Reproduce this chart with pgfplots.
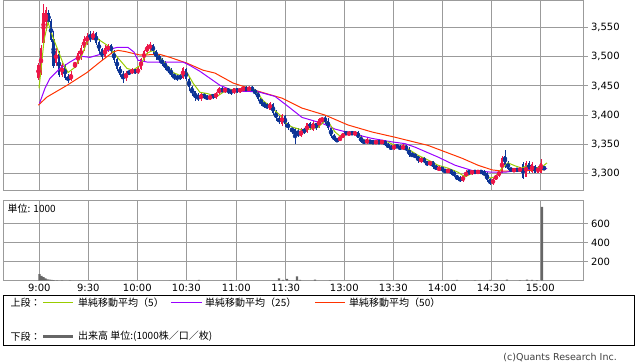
\documentclass[border=0pt]{standalone}
\usepackage{pgfplots}
\pgfplotsset{compat=1.18}
\usepackage{pgfplotstable}
\usepackage{fontspec}
\setmainfont{DejaVu Sans}
\newfontfamily\jp{Noto Sans CJK JP}
\definecolor{upred}{RGB}{236,22,72}
\definecolor{dnblue}{RGB}{12,52,150}
\definecolor{mafive}{RGB}{153,204,0}
\definecolor{matwf}{RGB}{153,0,255}
\definecolor{mafty}{RGB}{255,51,0}
\definecolor{volgray}{RGB}{102,102,102}
\definecolor{gridgray}{RGB}{155,155,155}

\pgfplotstableread{
x o h l c
38.5 3465 3490 3460 3485
41 3470 3520 3468 3515
43.5 3525 3590 3520 3575
46 3560 3585 3545 3580
56 3490 3515 3485 3510
62 3470 3490 3465 3485
71 3460 3475 3458 3470
75 3485 3490 3480 3490
78 3490 3510 3488 3505
81 3500 3520 3495 3515
84 3515 3535 3510 3530
87 3525 3540 3520 3535
93 3530 3545 3528 3540
105 3500 3520 3498 3515
108 3510 3522 3508 3520
126 3465 3475 3458 3472
132 3472 3480 3470 3478
138 3472 3482 3470 3480
141 3480 3498 3478 3495
144 3495 3512 3492 3510
147 3508 3522 3505 3518
150 3515 3525 3510 3520
183 3465 3482 3462 3480
201 3428 3438 3425 3435
210 3428 3435 3426 3432
216 3430 3440 3428 3438
219 3438 3448 3435 3445
225 3440 3448 3438 3445
234 3438 3447 3436 3445
240 3440 3447 3438 3445
243 3442 3450 3440 3447
249 3442 3450 3440 3448
270 3410 3422 3408 3420
282 3385 3402 3382 3400
301 3365 3378 3362 3372
307 3372 3387 3370 3385
313 3375 3390 3372 3385
319 3380 3395 3378 3392
322 3390 3397 3386 3395
340 3356 3365 3355 3362
343 3362 3370 3360 3368
349 3366 3372 3365 3370
355 3367 3372 3365 3370
367 3352 3360 3350 3358
376 3352 3357 3350 3355
382 3352 3358 3350 3355
394 3342 3350 3340 3348
403 3342 3350 3340 3347
421 3320 3328 3318 3326
430 3315 3322 3313 3320
439 3306 3312 3304 3310
448 3303 3308 3300 3306
463 3287 3297 3285 3295
466 3295 3305 3293 3302
472 3300 3306 3298 3304
478 3301 3306 3299 3304
493 3282 3292 3280 3290
496 3290 3298 3288 3296
499 3296 3305 3294 3303
502 3302 3330 3300 3325
514 3304 3309 3302 3307
520 3305 3310 3303 3308
526 3295 3322 3293 3318
532 3303 3320 3300 3315
538 3302 3312 3300 3310
541 3302 3325 3300 3318
}\upcandles

\pgfplotstableread{
x o h l c
48.5 3575 3580 3555 3560
51 3560 3565 3525 3530
53.5 3530 3545 3480 3485
59 3505 3510 3465 3470
65 3485 3487 3460 3465
68 3465 3470 3455 3460
90 3535 3545 3525 3530
96 3540 3542 3520 3525
99 3525 3530 3505 3510
102 3512 3515 3495 3500
111 3520 3522 3505 3510
114 3510 3512 3490 3495
117 3495 3500 3475 3480
120 3482 3485 3465 3470
123 3470 3475 3455 3465
129 3475 3478 3468 3470
135 3478 3480 3470 3472
153 3520 3522 3505 3510
156 3510 3512 3495 3500
159 3502 3505 3490 3495
162 3495 3498 3485 3488
165 3490 3492 3478 3482
168 3482 3485 3472 3478
171 3478 3480 3465 3470
174 3470 3472 3460 3465
177 3466 3470 3458 3462
180 3468 3470 3460 3462
186 3478 3480 3458 3462
189 3462 3465 3442 3448
192 3448 3450 3432 3438
195 3440 3442 3425 3430
198 3432 3438 3425 3428
204 3435 3438 3428 3430
207 3432 3435 3425 3428
213 3435 3437 3428 3430
222 3445 3448 3438 3440
228 3445 3447 3437 3440
231 3442 3445 3435 3438
237 3445 3447 3438 3440
246 3447 3450 3440 3442
252 3448 3450 3440 3442
255 3442 3445 3435 3438
258 3440 3442 3425 3428
261 3428 3430 3415 3420
264 3420 3425 3412 3415
267 3418 3420 3410 3412
273 3418 3420 3400 3405
276 3405 3408 3390 3395
279 3395 3398 3385 3388
285 3398 3400 3380 3385
288 3385 3388 3375 3378
292 3378 3380 3368 3372
295 3375 3378 3350 3365
298 3370 3378 3362 3365
304 3375 3378 3368 3370
310 3385 3388 3375 3378
316 3385 3387 3375 3380
325 3395 3398 3385 3390
328 3390 3395 3375 3378
331 3378 3380 3360 3365
334 3365 3368 3355 3358
337 3358 3360 3354 3356
346 3370 3372 3366 3368
352 3370 3372 3366 3368
358 3370 3372 3360 3362
361 3362 3365 3352 3355
364 3356 3358 3350 3353
370 3356 3358 3350 3353
373 3355 3357 3350 3352
379 3355 3357 3350 3352
385 3355 3357 3347 3350
388 3350 3352 3343 3345
391 3346 3348 3340 3342
397 3348 3350 3343 3345
400 3346 3348 3340 3342
406 3347 3348 3338 3342
409 3342 3345 3328 3332
412 3333 3336 3328 3330
415 3332 3335 3326 3328
418 3330 3332 3318 3322
424 3325 3328 3318 3320
427 3320 3322 3312 3315
433 3320 3322 3308 3312
436 3312 3315 3305 3308
442 3310 3312 3303 3306
445 3306 3308 3300 3303
451 3306 3308 3298 3300
454 3302 3305 3294 3296
457 3296 3298 3288 3290
460 3292 3295 3285 3288
469 3303 3306 3298 3300
475 3304 3306 3299 3301
481 3304 3306 3299 3301
484 3302 3305 3296 3298
487 3300 3302 3285 3290
490 3290 3292 3280 3282
505 3330 3340 3310 3315
508 3318 3322 3305 3308
511 3308 3310 3303 3305
517 3307 3309 3303 3305
523 3315 3320 3290 3292
529 3318 3322 3300 3305
535 3312 3315 3300 3302
544 3310 3312 3306 3308
}\dncandles

\pgfplotsset{
  chartbase/.style={
    scale only axis, width=580bp, xmin=3, xmax=583,
    xtick={39.3,88.3,137.3,186.3,236.3,285.7,344.3,393.3,442.3,491.3,540.3},
    grid=major,
    major grid style={gridgray, line width=1bp},
    axis line style={gridgray, line width=1bp},
    xtick style={draw=none},
    ytick pos=right, yticklabel pos=right, ytick align=outside,
    major tick length=4.5bp,
    ytick style={gridgray, line width=1bp},
    tick label style={font=\fontsize{10bp}{12bp}\selectfont, text=black},
    /pgf/number format/assume math mode=true,
    /pgf/number format/1000 sep={,},
  },
  wick/.style={draw=#1, color=#1, only marks, mark=none, forget plot,
    error bars/.cd, y dir=both, y explicit, error mark=none,
    error bar style={line width=1bp, draw=#1, solid}},
  body/.style={draw=#1, color=#1, only marks, mark=none, forget plot,
    error bars/.cd, y dir=both, y explicit, error mark=none,
    error bar style={line width=2.6bp, draw=#1, solid}},
}

\begin{document}
\begin{tikzpicture}
\useasboundingbox (0,0) rectangle (638bp,362bp);
\begin{axis}[chartbase,
  at={(3bp,171.7bp)}, anchor=south west, height=189.8bp,
  ymin=3271, ymax=3596.5,
  ytick={3300,3350,3400,3450,3500,3550},
  xticklabel=\empty]
\addplot[wick=dnblue] table[x=x, y expr={(\thisrow{h}+\thisrow{l})/2}, y error expr={(\thisrow{h}-\thisrow{l})/2}] {\dncandles};
\addplot[body=dnblue] table[x=x, y expr={(\thisrow{o}+\thisrow{c})/2}, y error expr={abs(\thisrow{o}-\thisrow{c})/2+0.6}] {\dncandles};
\addplot[wick=upred] table[x=x, y expr={(\thisrow{h}+\thisrow{l})/2}, y error expr={(\thisrow{h}-\thisrow{l})/2}] {\upcandles};
\addplot[body=upred] table[x=x, y expr={(\thisrow{o}+\thisrow{c})/2}, y error expr={abs(\thisrow{o}-\thisrow{c})/2+0.6}] {\upcandles};
% MA50
\addplot[mafty, line width=1bp, mark=none] coordinates {
(38.3,3417) (47,3431) (67,3451) (87,3473) (100,3491) (113,3508) (118,3511) (125,3509) (140,3503) (160,3504) (170,3499) (187,3489) (203,3477) (215,3472) (233,3455) (258,3441) (282,3429) (302,3412) (325,3400) (348,3383) (372,3371) (395,3362) (428,3348) (445,3337) (462,3326) (478,3314) (492,3306) (502,3304) (515,3304) (528,3305) (545,3306)};
% MA25
\addplot[matwf, line width=1bp, mark=none] coordinates {
(39.5,3420) (45,3446) (50,3463) (60,3480) (70,3491) (80,3501) (90,3499) (100,3504) (110,3513) (117,3516) (128,3516) (134,3508) (138,3494) (147,3491) (165,3491) (183,3491) (190,3485) (200,3475) (210,3463) (220,3451) (230,3444) (240,3441) (258,3440) (275,3432) (288,3415) (302,3396) (322,3386) (335,3376) (355,3367) (372,3360) (392,3354) (405,3351) (415,3345) (438,3328) (455,3314) (472,3305) (492,3302) (505,3302) (522,3306) (535,3308) (547,3308)};
% MA5
\addplot[mafive, line width=1bp, mark=none] coordinates {
(39,3446) (41,3477) (44,3528) (48,3559) (53,3533) (58,3511) (63,3489) (68,3473) (75,3482) (82,3503) (87,3525) (93,3537) (100,3528) (107,3520) (113,3508) (120,3494) (127,3480) (133,3477) (140,3485) (147,3506) (153,3511) (160,3499) (167,3485) (173,3473) (180,3468) (187,3473) (193,3455) (200,3439) (207,3437) (217,3432) (223,3439) (230,3444) (240,3441) (253,3446) (258,3437) (263,3425) (270,3415) (280,3400) (287,3384) (293,3379) (303,3374) (310,3376) (318,3379) (325,3390) (330,3384) (335,3371) (340,3364) (347,3367) (353,3371) (358,3367) (364,3357) (375,3354) (388,3354) (398,3345) (408,3342) (418,3331) (428,3323) (438,3314) (448,3309) (458,3302) (465,3294) (472,3300) (482,3300) (490,3292) (495,3294) (502,3309) (508,3318) (515,3313) (522,3309) (528,3314) (535,3309) (542,3311) (547,3318)};
\end{axis}

\begin{axis}[chartbase,
  at={(3bp,81.3bp)}, anchor=south west, height=79.7bp,
  ymin=0, ymax=839,
  ytick={200,400,600},
  xticklabels={9:00,9:30,10:00,10:30,11:00,11:30,13:00,13:30,14:00,14:30,15:00}]
\addplot[ybar, bar width=2.4, bar shift=0pt, fill=volgray, draw=none] coordinates {
(39.5,70) (41.5,52) (43.5,38) (45.5,25) (47.5,15) (49.5,12) (51.5,8) (53.5,5) (57,4) (62,3) (70,3) (90,3) (100,2) (140,2) (170,2) (199,9) (230,3) (279,25) (283,8) (287,20) (297,45) (300,8) (315,10) (330,3) (380,2) (430,2) (457,9) (475,3) (490,8) (507,10) (520,4) (527,10) (532,8) (537,5) (542,776)};
\end{axis}

\node[anchor=west, inner sep=0pt] at (7.5bp,153bp) {\jp\fontsize{10bp}{12bp}\selectfont 単位: 1000};

% legend box
\draw[line width=1bp] (3.3bp,16bp) rectangle (634.7bp,66.7bp);
\node[anchor=west, inner sep=0pt] at (10.5bp,59.3bp) {\jp\fontsize{10bp}{12bp}\selectfont 上段：};
\draw[mafive, line width=1bp] (43bp,59.3bp) -- (73bp,59.3bp);
\node[anchor=west, inner sep=0pt] at (78bp,59.3bp) {\jp\fontsize{10bp}{12bp}\selectfont 単純移動平均（5）};
\draw[matwf, line width=1bp] (171bp,59.3bp) -- (202bp,59.3bp);
\node[anchor=west, inner sep=0pt] at (205bp,59.3bp) {\jp\fontsize{10bp}{12bp}\selectfont 単純移動平均（25）};
\draw[mafty, line width=1bp] (315bp,59.3bp) -- (345bp,59.3bp);
\node[anchor=west, inner sep=0pt] at (349bp,59.3bp) {\jp\fontsize{10bp}{12bp}\selectfont 単純移動平均（50）};
\node[anchor=west, inner sep=0pt] at (10.5bp,25.3bp) {\jp\fontsize{10bp}{12bp}\selectfont 下段：};
\draw[volgray, line width=3bp] (43bp,25.3bp) -- (73bp,25.3bp);
\node[anchor=west, inner sep=0pt] at (78bp,25.3bp) {\jp\fontsize{10bp}{12bp}\selectfont 出来高 単位:(1000株／口／枚)};

\node[anchor=east, inner sep=0pt, text=black!75] at (617bp,4.3bp) {\fontsize{9.5bp}{11bp}\selectfont (c)Quants Research Inc.};
\end{tikzpicture}
\end{document}
